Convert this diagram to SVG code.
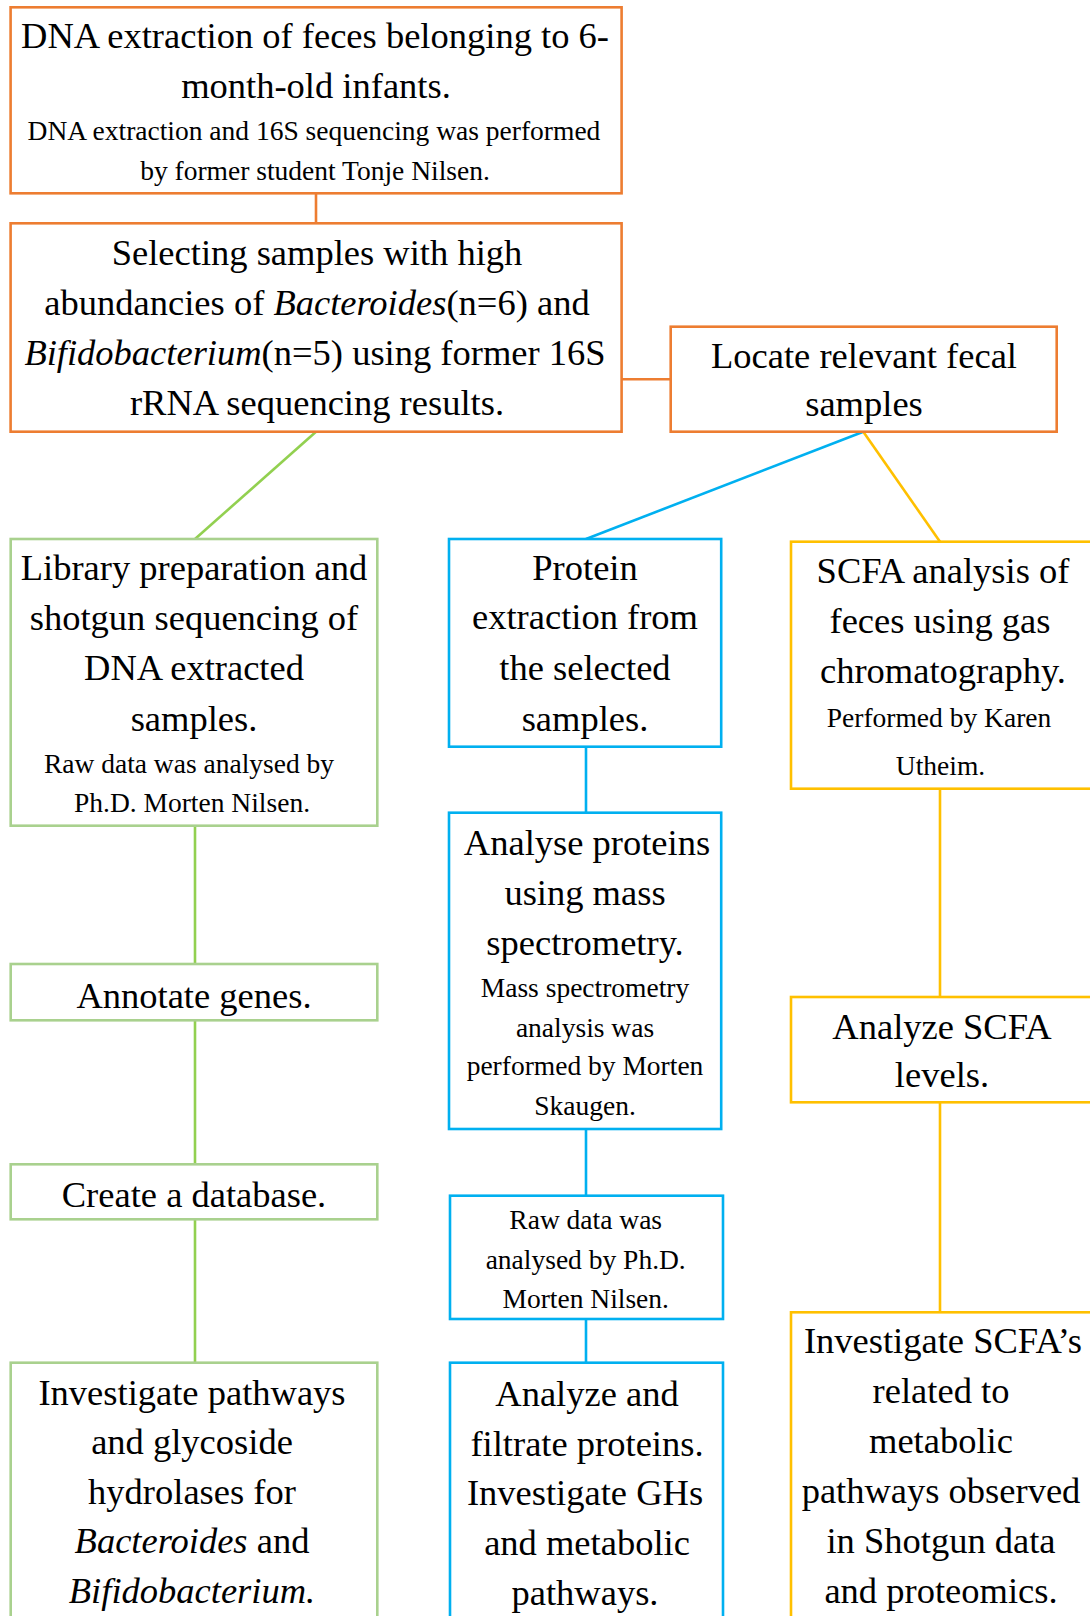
<svg xmlns="http://www.w3.org/2000/svg" width="1090" height="1616" viewBox="0 0 1090 1616">
<style>
text{font-family:"Liberation Serif","Times New Roman",serif;fill:#000;text-anchor:middle}
.m{font-size:36.5px}
.s{font-size:27.5px}
.i{font-style:italic}
rect{fill:#fff;stroke-width:2.6}
.o{stroke:#ED7D31}
.g{stroke:#A9D18E}
.b{stroke:#00B0F0}
.y{stroke:#FFC000}
line{stroke-width:2.6}
.lo{stroke:#ED7D31}
.lg{stroke:#92D050}
.lb{stroke:#00B0F0}
.ly{stroke:#FFC000}
</style>
<rect x="0" y="0" width="1090" height="1616" style="fill:#fff;stroke:none"/>
<g id="connectors">
<line class="lo" x1="316" y1="193.3" x2="316" y2="223.3"/>
<line class="lo" x1="617" y1="379.3" x2="670.7" y2="379.3"/>
<line class="lg" x1="316" y1="431.7" x2="195" y2="539"/>
<line class="lg" x1="195" y1="825.7" x2="195" y2="964"/>
<line class="lg" x1="195" y1="1020.3" x2="195" y2="1164.3"/>
<line class="lg" x1="195" y1="1219.3" x2="195" y2="1362.7"/>
<line class="lb" x1="863.3" y1="431.7" x2="586" y2="539"/>
<line class="lb" x1="586" y1="746.7" x2="586" y2="812.7"/>
<line class="lb" x1="586" y1="1129" x2="586" y2="1195.7"/>
<line class="lb" x1="586" y1="1319" x2="586" y2="1362.7"/>
<line class="ly" x1="863.3" y1="431.7" x2="940" y2="541.7"/>
<line class="ly" x1="940" y1="788.7" x2="940" y2="997"/>
<line class="ly" x1="940" y1="1102.3" x2="940" y2="1312.3"/>
</g>
<g id="n1">
<rect class="o" x="10.6" y="7.3" width="611" height="186"/>
<text class="m" x="315" y="48.3">DNA extraction of feces belonging to 6-</text>
<text class="m" x="316" y="98.3">month-old infants.</text>
<text class="s" x="314" y="140">DNA extraction and 16S sequencing was performed</text>
<text class="s" x="315" y="180">by former student Tonje Nilsen.</text>
</g>
<g id="n2">
<rect class="o" x="10.6" y="223.3" width="611" height="208.4"/>
<text class="m" x="317" y="265">Selecting samples with high</text>
<text class="m" x="317" y="315">abundancies of <tspan class="i">Bacteroides</tspan>(n=6) and</text>
<text class="m" x="315" y="365"><tspan class="i">Bifidobacterium</tspan>(n=5) using former 16S</text>
<text class="m" x="317" y="415">rRNA sequencing results.</text>
</g>
<g id="n3">
<rect class="o" x="670.7" y="326.7" width="386" height="105"/>
<text class="m" x="864" y="368.3">Locate relevant fecal</text>
<text class="m" x="864" y="416">samples</text>
</g>
<g id="g1">
<rect class="g" x="10.7" y="539" width="366.6" height="286.7"/>
<text class="m" x="194" y="580">Library preparation and</text>
<text class="m" x="194" y="630">shotgun sequencing of</text>
<text class="m" x="194" y="680">DNA extracted</text>
<text class="m" x="194" y="730.7">samples.</text>
<text class="s" x="189" y="773.3">Raw data was analysed by</text>
<text class="s" x="192" y="811.7">Ph.D. Morten Nilsen.</text>
</g>
<g id="g2">
<rect class="g" x="10.7" y="964" width="366.6" height="56.3"/>
<text class="m" x="194" y="1008.3">Annotate genes.</text>
</g>
<g id="g3">
<rect class="g" x="10.7" y="1164.3" width="366.6" height="55"/>
<text class="m" x="194" y="1206.7">Create a database.</text>
</g>
<g id="g4">
<rect class="g" x="10.7" y="1362.7" width="366.6" height="270"/>
<text class="m" x="192" y="1405">Investigate pathways</text>
<text class="m" x="192" y="1454">and glycoside</text>
<text class="m" x="192" y="1504">hydrolases for</text>
<text class="m" x="192" y="1553"><tspan class="i">Bacteroides</tspan> and</text>
<text class="m i" x="192" y="1603">Bifidobacterium.</text>
</g>
<g id="b1">
<rect class="b" x="449" y="539" width="272.2" height="207.7"/>
<text class="m" x="585" y="580">Protein</text>
<text class="m" x="585" y="629.3">extraction from</text>
<text class="m" x="585" y="680">the selected</text>
<text class="m" x="585" y="730.7">samples.</text>
</g>
<g id="b2">
<rect class="b" x="449" y="812.7" width="272.2" height="316.3"/>
<text class="m" x="587" y="855">Analyse proteins</text>
<text class="m" x="585" y="905">using mass</text>
<text class="m" x="585" y="955">spectrometry.</text>
<text class="s" x="585" y="996.7">Mass spectrometry</text>
<text class="s" x="585" y="1036.7">analysis was</text>
<text class="s" x="585" y="1075">performed by Morten</text>
<text class="s" x="585" y="1115">Skaugen.</text>
</g>
<g id="b3">
<rect class="b" x="450" y="1195.7" width="273" height="123.3"/>
<text class="s" x="585.7" y="1229">Raw data was</text>
<text class="s" x="585.7" y="1269">analysed by Ph.D.</text>
<text class="s" x="585.7" y="1307.7">Morten Nilsen.</text>
</g>
<g id="b4">
<rect class="b" x="450" y="1362.7" width="273" height="270"/>
<text class="m" x="587" y="1405.7">Analyze and</text>
<text class="m" x="587" y="1455.7">filtrate proteins.</text>
<text class="m" x="585" y="1505">Investigate GHs</text>
<text class="m" x="587" y="1555">and metabolic</text>
<text class="m" x="585" y="1605">pathways.</text>
</g>
<g id="y1">
<rect class="y" x="791" y="541.7" width="305" height="247"/>
<text class="m" x="943" y="583.3">SCFA analysis of</text>
<text class="m" x="940" y="633.3">feces using gas</text>
<text class="m" x="943" y="683.3">chromatography.</text>
<text class="s" x="939" y="726.7">Performed by Karen</text>
<text class="s" x="940.5" y="775">Utheim.</text>
</g>
<g id="y2">
<rect class="y" x="791" y="997" width="305" height="105.3"/>
<text class="m" x="942" y="1039.3">Analyze SCFA</text>
<text class="m" x="942" y="1087.3">levels.</text>
</g>
<g id="y3">
<rect class="y" x="791" y="1312.3" width="305" height="320"/>
<text class="m" x="943" y="1353.3">Investigate SCFA’s</text>
<text class="m" x="941" y="1402.7">related to</text>
<text class="m" x="941" y="1452.7">metabolic</text>
<text class="m" x="941" y="1502.7">pathways observed</text>
<text class="m" x="941" y="1553.3">in Shotgun data</text>
<text class="m" x="941" y="1603.3">and proteomics.</text>
</g>
</svg>
